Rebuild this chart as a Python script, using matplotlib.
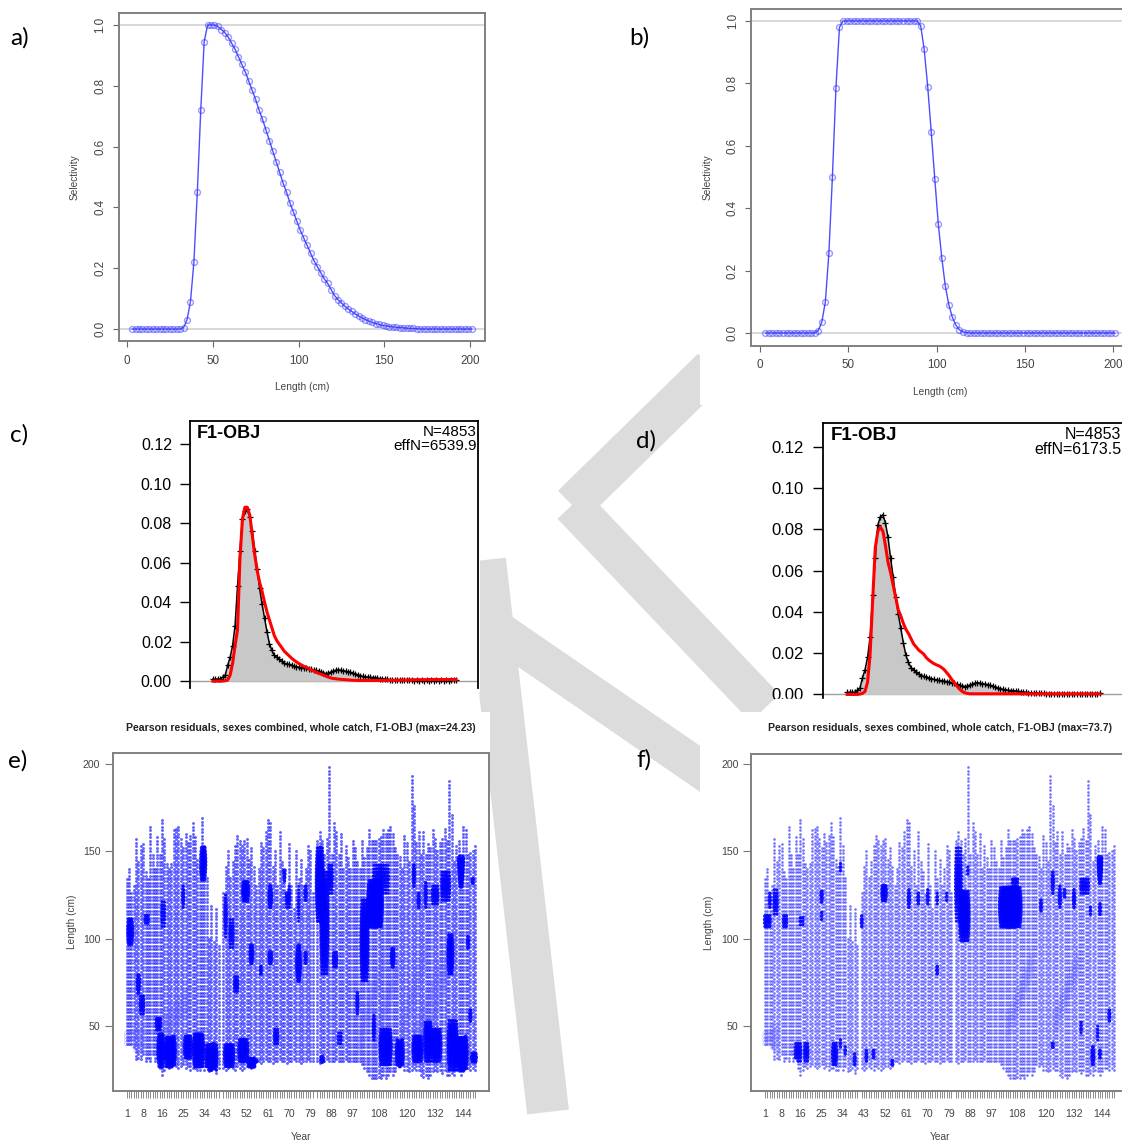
import numpy as np
import matplotlib.pyplot as plt
from matplotlib.patches import Polygon, Rectangle

plt.rcParams['font.family'] = ['Liberation Sans', 'DejaVu Sans']

W, H = 1122, 1143

# ---------------- data ----------------
# length bins (cm), shared by a-d
length = np.arange(3, 202, 2)

# a) selectivity, dome shaped
sel_a = [0, 0, 0, 0, 0, 0, 0, 0, 0, 0,
         0, 0, 0, 0, 0, 0.005, 0.03, 0.09, 0.22, 0.45,
         0.72, 0.945, 1.0, 1.0, 1.0, 0.995, 0.985, 0.975, 0.96, 0.94,
         0.92, 0.895, 0.87, 0.845, 0.815, 0.785, 0.755, 0.72, 0.69, 0.655,
         0.62, 0.585, 0.55, 0.515, 0.48, 0.45, 0.415, 0.385, 0.355, 0.325,
         0.30, 0.275, 0.25, 0.225, 0.205, 0.185, 0.165, 0.15, 0.13, 0.11,
         0.097, 0.086, 0.075, 0.066, 0.058, 0.05, 0.043, 0.037, 0.031, 0.026,
         0.022, 0.018, 0.015, 0.012, 0.01, 0.008, 0.007, 0.006, 0.005, 0.004,
         0.003, 0.002, 0.002, 0.001, 0, 0, 0, 0, 0, 0,
         0, 0, 0, 0, 0, 0, 0, 0, 0, 0]

# b) selectivity, flat top
sel_b = [0, 0, 0, 0, 0, 0, 0, 0, 0, 0,
         0, 0, 0, 0, 0, 0.008, 0.035, 0.10, 0.255, 0.50,
         0.785, 0.98, 1, 1, 1, 1, 1, 1, 1, 1,
         1, 1, 1, 1, 1, 1, 1, 1, 1, 1,
         1, 1, 1, 1, 0.985, 0.91, 0.79, 0.645, 0.495, 0.35,
         0.24, 0.15, 0.09, 0.05, 0.025, 0.01, 0.004, 0.001, 0, 0,
         0, 0, 0, 0, 0, 0, 0, 0, 0, 0,
         0, 0, 0, 0, 0, 0, 0, 0, 0, 0,
         0, 0, 0, 0, 0, 0, 0, 0, 0, 0,
         0, 0, 0, 0, 0, 0, 0, 0, 0, 0]

# c/d) observed length composition (same data in both)
obs_comp = [0.001, 0.001, 0.001, 0.001, 0.002, 0.003, 0.008, 0.012, 0.018, 0.028,
            0.048, 0.066, 0.082, 0.086, 0.087, 0.083, 0.076, 0.066, 0.057, 0.047,
            0.039, 0.032, 0.025, 0.019, 0.0155, 0.013, 0.012, 0.011, 0.010, 0.009,
            0.0088, 0.0085, 0.008, 0.0076, 0.0073, 0.007, 0.0068, 0.0066, 0.0065, 0.0062,
            0.006, 0.0057, 0.0054, 0.005, 0.0045, 0.004, 0.0038, 0.004, 0.0045, 0.005,
            0.0055, 0.0057, 0.0055, 0.0052, 0.005, 0.0048, 0.0045, 0.004, 0.0035, 0.0032,
            0.0028, 0.0024, 0.0022, 0.002, 0.0019, 0.0018, 0.0017, 0.0015, 0.0013, 0.0012,
            0.001, 0.0009, 0.0008, 0.0007, 0.0007, 0.0006, 0.0005, 0.0005, 0.0004, 0.0004,
            0.0003, 0.0004, 0.0002, 0.0003, 0.0002, 0.0003, 0.0002, 0.0004, 0.0002, 0.0003,
            0.0002, 0.0003, 0.0002, 0.0003, 0.0002, 0.0003, 0.0002, 0.0004, 0.0003, 0.0005]

# c) expected, model 1
exp_c = [0, 0, 0, 0, 0, 0.0002, 0.0005, 0.003, 0.009, 0.018,
         0.026, 0.062, 0.082, 0.088, 0.088, 0.084, 0.074, 0.064, 0.056, 0.050,
         0.0455, 0.040, 0.035, 0.031, 0.027, 0.023, 0.0205, 0.0187, 0.017, 0.0152,
         0.014, 0.0128, 0.0116, 0.0106, 0.0097, 0.0089, 0.0082, 0.0075, 0.007, 0.0064,
         0.0057, 0.0051, 0.0045, 0.0039, 0.0035, 0.003, 0.0025, 0.002, 0.0016, 0.0013,
         0.0012, 0.001, 0.0009, 0.0008, 0.0007, 0.0006, 0.0005, 0.0004, 0.0004, 0.0003,
         0.0003, 0.0003, 0.0003, 0.0003, 0.0003, 0.0003, 0.0003, 0.0003, 0.0003, 0.0003,
         0.0003, 0.0003, 0.0004, 0.0004, 0.0004, 0.0005, 0.0005, 0.0005, 0.0005, 0.0006,
         0.0006, 0.0006, 0.0006, 0.0007, 0.0007, 0.0007, 0.0007, 0.0007, 0.0008, 0.0008,
         0.0008, 0.0008, 0.0008, 0.0008, 0.0008, 0.0008, 0.0008, 0.0008, 0.0008, 0.0008]

# d) expected, model 2
exp_d = [0, 0, 0, 0, 0, 0.0002, 0.0005, 0.0015, 0.006, 0.020,
         0.046, 0.071, 0.079, 0.081, 0.079, 0.072, 0.064, 0.059, 0.053, 0.047,
         0.041, 0.038, 0.0344, 0.0315, 0.0295, 0.027, 0.0245, 0.023, 0.0215, 0.0205,
         0.0195, 0.0178, 0.0166, 0.0157, 0.0149, 0.0143, 0.0138, 0.013, 0.012, 0.0105,
         0.009, 0.0072, 0.0056, 0.004, 0.0026, 0.0015, 0.0008, 0.0005, 0.0003, 0.0003,
         0.0003, 0.0003, 0.0003, 0.0003, 0.0003, 0.0003, 0.0003, 0.0003, 0.0003, 0.0003,
         0.0003, 0.0003, 0.0003, 0.0003, 0.0003, 0.0003, 0.0003, 0.0003, 0.0003, 0.0003,
         0.0003, 0.0003, 0.0003, 0.0003, 0.0003, 0.0003, 0.0003, 0.0003, 0.0003, 0.0003,
         0.0003, 0.0003, 0.0003, 0.0003, 0.0003, 0.0003, 0.0003, 0.0003, 0.0003, 0.0003,
         0.0003, 0.0003, 0.0003, 0.0003, 0.0003, 0.0003, 0.0003, 0.0003, 0.0003, 0.0003]

# e/f) bubble plot: years 1..149 (41 and 81 missing), length range sampled each year
year_all = list(range(1, 150))
len_max = [134, 141, 126, 130, 157, 145, 153, 155, 139, 134,
           165, 149, 141, 159, 149, 169, 158, 143, 141, 143,
           163, 163, 165, 158, 153, 161, 155, 160, 167, 158,
           145, 141, 169, 153, 136, 101, 119, 98, 118, 96,
           None, 126, 141, 151, 136, 145, 153, 159, 157, 153,
           157, 157, 145, 153, 141, 130, 141, 155, 153, 162,
           169, 166, 141, 151, 130, 161, 145, 139, 126, 155,
           130, 118, 151, 134, 145, 130, 141, 153, 151, 126,
           None, 157, 161, 157, 149, 158, 199, 149, 167, 162,
           149, 161, 141, 153, 147, 141, 157, 153, 145, 141,
           157, 147, 153, 163, 157, 157, 157, 157, 158, 163,
           160, 162, 165, 161, 153, 149, 147, 141, 159, 156,
           145, 193, 176, 155, 161, 149, 161, 149, 155, 153,
           163, 157, 150, 155, 157, 163, 157, 191, 171, 145,
           153, 157, 147, 164, 162, 149, 149, 151, 153]
len_min = [40, 40, 40, 38, 31, 32, 31, 34, 30, 32,
           30, 34, 30, 32, 26, 22, 25, 27, 26, 27,
           28, 27, 26, 27, 28, 26, 27, 25, 26, 26,
           25, 25, 27, 25, 27, 24, 25, 26, 23, 26,
           None, 26, 25, 26, 27, 26, 25, 27, 26, 25,
           26, 27, 27, 26, 27, 30, 30, 29, 30, 31,
           30, 30, 29, 30, 30, 31, 30, 30, 29, 30,
           30, 31, 30, 30, 29, 30, 30, 31, 30, 30,
           None, 30, 29, 30, 30, 31, 30, 30, 30, 31,
           30, 30, 30, 31, 30, 30, 30, 30, 30, 30,
           28, 26, 24, 22, 20, 20, 20, 21, 20, 22,
           20, 22, 24, 22, 24, 28, 27, 28, 25, 25,
           24, 25, 26, 25, 25, 22, 21, 22, 20, 22,
           24, 25, 24, 25, 23, 25, 22, 22, 23, 22,
           25, 24, 22, 24, 26, 26, 25, 26, 25]

# large positive residual clusters: (year from, year to, length from, length to, size)
blobs_e = [(2, 3, 97, 111, 2.2), (6, 6, 69, 80, 2), (7, 8, 57, 68, 1.7), (9, 10, 109, 114, 1.6),
           (14, 15, 48, 55, 2), (15, 16, 27, 46, 2.6), (18, 21, 27, 44, 2.6), (16, 17, 107, 122, 1.4),
           (25, 25, 118, 130, 1.6), (26, 28, 32, 44, 2.2), (30, 33, 27, 46, 2.6), (33, 34, 134, 153, 2.3),
           (35, 39, 25, 40, 2.2), (43, 46, 27, 40, 2.2), (43, 43, 101, 126, 1.7), (45, 46, 95, 111, 1.6),
           (47, 48, 70, 78, 1.7), (49, 52, 30, 42, 2.2), (51, 52, 122, 133, 2.6), (53, 56, 27, 31, 2.2),
           (54, 54, 86, 97, 2.2), (58, 58, 80, 84, 1.6), (62, 62, 118, 130, 2.2), (62, 62, 86, 93, 2.2),
           (64, 65, 40, 48, 1.7), (68, 68, 133, 145, 1.7), (69, 70, 118, 130, 1.7), (74, 74, 76, 96, 2.6),
           (74, 74, 110, 130, 1.4), (77, 77, 122, 130, 1.7), (77, 77, 86, 93, 1.7), (82, 84, 110, 153, 2.2),
           (84, 86, 80, 139, 2.2), (87, 88, 126, 143, 1.7), (84, 84, 28, 32, 2.2), (89, 90, 84, 92, 1.7),
           (91, 92, 40, 46, 1.4), (99, 99, 57, 70, 1.7), (101, 103, 76, 122, 2.2), (104, 109, 107, 133, 2.7),
           (106, 112, 126, 143, 1.6), (106, 106, 42, 57, 1.7), (109, 113, 28, 48, 2.2), (114, 114, 84, 95, 2.2),
           (116, 118, 27, 42, 2.2), (123, 123, 130, 143, 1.7), (123, 126, 30, 44, 2.2), (125, 125, 118, 126, 1.7),
           (128, 130, 30, 53, 2.2), (128, 128, 118, 133, 1.7), (131, 133, 120, 130, 1.7), (131, 134, 30, 48, 2.2),
           (135, 138, 122, 139, 1.7), (138, 139, 80, 103, 2.2), (138, 141, 25, 53, 2.2), (143, 143, 130, 164, 3),
           (142, 145, 25, 44, 2.6), (146, 146, 95, 101, 1.7), (147, 147, 53, 59, 1.7), (148, 149, 30, 34, 2.2),
           (148, 148, 132, 135, 1.7)]
blobs_f = [(1, 3, 107, 114, 1.7), (3, 3, 118, 126, 1.6), (5, 6, 114, 128, 1.6), (9, 10, 107, 114, 1.6),
           (14, 16, 30, 40, 1.7), (16, 17, 108, 113, 1.4), (18, 19, 30, 40, 1.7), (25, 25, 121, 128, 1.7),
           (25, 25, 111, 116, 1.4), (30, 31, 28, 40, 1.9), (33, 33, 38, 42, 1.4), (33, 33, 139, 143, 1.4),
           (35, 35, 34, 38, 1.4), (39, 39, 28, 34, 1.6), (42, 42, 107, 113, 1.6), (44, 44, 30, 36, 1.6),
           (47, 47, 32, 36, 1.6), (51, 52, 122, 131, 2.1), (55, 55, 28, 30, 1.6), (62, 62, 118, 128, 1.7),
           (66, 66, 120, 126, 1.6), (70, 70, 120, 128, 1.6), (74, 74, 120, 126, 1.4), (74, 74, 80, 84, 1.6),
           (78, 78, 122, 126, 1.4), (82, 84, 110, 153, 1.7), (84, 87, 99, 128, 2.3), (87, 87, 137, 141, 1.4),
           (101, 109, 107, 130, 2.7), (106, 108, 130, 135, 1.6), (118, 118, 116, 122, 1.6), (123, 123, 126, 139, 1.7),
           (123, 123, 38, 40, 1.6), (126, 126, 118, 130, 1.7), (128, 128, 124, 128, 1.6), (132, 132, 118, 128, 1.7),
           (135, 138, 126, 135, 1.6), (139, 139, 114, 118, 1.4), (140, 140, 28, 38, 1.9), (143, 143, 132, 160, 2.6),
           (143, 143, 114, 120, 1.6), (143, 143, 32, 36, 1.6), (147, 147, 53, 59, 1.6), (142, 142, 42, 50, 1.4),
           (135, 135, 46, 53, 1.4)]
# negative residual streaks (open circles): (year from, length from, year to, length to)
neg_e = [(1, 40, 8, 44), (17, 50, 28, 66), (100, 42, 110, 88), (106, 40, 116, 84),
         (118, 48, 128, 92), (124, 44, 136, 90), (130, 50, 140, 96)]
neg_f = [(1, 40, 6, 44), (104, 50, 114, 86), (124, 52, 134, 88)]

year_labels = [1, 8, 16, 25, 34, 43, 52, 61, 70, 79, 88, 97, 108, 120, 132, 144]

# ---------------- layout helpers (pixel positions) ----------------
fig = plt.figure(figsize=(W / 100, H / 100), dpi=100)


def px_axes(left, top, right, bottom):
    return fig.add_axes([left / W, 1 - bottom / H, (right - left) / W, (bottom - top) / H])


def ftext(x, y, s, **kw):
    fig.text(x / W, 1 - y / H, s, **kw)


def band(x0, y0, x1, y1, w):
    # thick straight stroke between two pixel points
    d = np.array([x1 - x0, y1 - y0], float)
    n = np.array([-d[1], d[0]]) / np.hypot(*d) * w / 2
    pts = [(x0 + n[0], y0 + n[1]), (x1 + n[0], y1 + n[1]), (x1 - n[0], y1 - n[1]), (x0 - n[0], y0 - n[1])]
    return [(x / W, 1 - y / H) for x, y in pts]


gray_txt = '#444444'

# light gray watermark behind the pasted plots
for x0, y0, x1, y1, w in [(485, 560, 548, 1112, 42), (495, 628, 760, 810, 38),
                          (712, 368, 572, 505, 40), (572, 505, 765, 708, 40)]:
    fig.patches.append(Polygon(band(x0, y0, x1, y1, w), closed=True, transform=fig.transFigure,
                               color='#dcdcdc', lw=0, zorder=-2))
# white backgrounds of the six pasted plots hide the watermark
for l, t, r, b in [(55, 0, 490, 405), (700, 0, 1122, 405), (128, 412, 480, 692),
                   (775, 412, 1122, 700), (55, 712, 490, 1143), (700, 712, 1122, 1143)]:
    fig.patches.append(Rectangle((l / W, 1 - b / H), (r - l) / W, (b - t) / H, transform=fig.transFigure,
                                 color='white', lw=0, zorder=-1))

# ---------------- a) and b) selectivity ----------------
for sel, (l, t, r, b), lab_x, ylab_x in [(sel_a, (118.6, 12.8, 485.3, 341.2), 302, 75),
                                        (sel_b, (751.4, 8.5, 1128.7, 345.5), 940, 708)]:
    ax = px_axes(l, t, r, b)
    ax.axhline(0, color='#d6d6d6', lw=1.3, zorder=1)
    ax.axhline(1, color='#d6d6d6', lw=1.3, zorder=1)
    ax.plot(length, sel, color=(0.3, 0.3, 1.0), lw=1, zorder=2)
    ax.plot(length, sel, 'o', ms=4.2, mfc='none', mec=(0.2, 0.2, 1.0, 0.5), mew=1, zorder=3)
    ax.set_xlim(-4.9, 208.9)
    ax.set_ylim(-0.04, 1.04)
    ax.set_xticks([0, 50, 100, 150, 200])
    ax.set_yticks([0, 0.2, 0.4, 0.6, 0.8, 1.0])
    ax.set_yticklabels(['0.0', '0.2', '0.4', '0.6', '0.8', '1.0'], rotation=90, va='center')
    ax.tick_params(length=4, width=0.8, color='#666666', labelsize=8.4, labelcolor=gray_txt, pad=5)
    ax.tick_params(axis='x', pad=6)
    for sp in ax.spines.values():
        sp.set_color('#808080')
        sp.set_linewidth(1.4)
    ftext(ylab_x, (t + b) / 2, 'Selectivity', rotation=90, ha='center', va='center',
          fontsize=7.3, color=gray_txt)
    ftext(lab_x, b + 46, 'Length (cm)', ha='center', va='center', fontsize=7.3, color=gray_txt)

# ---------------- c) and d) length composition fits ----------------
for exp, (l, t, r, b), ylim, fsz, effn in [(exp_c, (190, 421, 478, 688), (-0.0035, 0.1317), 11.5, 'effN=6539.9'),
                                           (exp_d, (823.3, 423.3, 1122.8, 700), (-0.0027, 0.1313), 12, 'effN=6173.5')]:
    ax = px_axes(l, t, r, b)
    ax.axhline(0, color='#a0a0a0', lw=1, zorder=1)
    ax.fill_between(length, 0, obs_comp, color='#c8c8c8', lw=0, zorder=2)
    ax.plot(length, obs_comp, color='black', lw=1.1, marker='+', ms=3.8, mew=0.9, zorder=3)
    ax.plot(length, exp, color='red', lw=2.2, zorder=4)
    ax.set_xlim(-15.7, 218.9)
    ax.set_ylim(*ylim)
    ax.set_xticks([])
    ax.set_yticks([0, 0.02, 0.04, 0.06, 0.08, 0.10, 0.12])
    ax.set_yticklabels(['0.00', '0.02', '0.04', '0.06', '0.08', '0.10', '0.12'])
    ax.tick_params(axis='y', length=7, width=1, labelsize=fsz, pad=6 if fsz < 12 else 7)
    ax.spines['bottom'].set_visible(False)
    for s in ['left', 'right', 'top']:
        ax.spines[s].set_linewidth(1.3)
    ax.text(0.025, 0.985, 'F1-OBJ', transform=ax.transAxes, ha='left', va='top',
            fontsize=fsz + 1.5, fontweight='bold')
    ax.text(0.995, 0.985, 'N=4853\n' + effn, transform=ax.transAxes, ha='right', va='top',
            fontsize=fsz - 0.5, linespacing=1.0)

# crop line under panel d
fig.patches.append(Rectangle((775 / W, 1 - 714 / H), 347 / W, 15 / H, transform=fig.transFigure,
                             color='white', zorder=20))


# ---------------- e) and f) Pearson residual bubbles ----------------
def bubbles(ax, blobs, negs, base_s, base_a):
    xs, ys = [], []
    col_range = {}
    for yr, lo, hi in zip(year_all, len_min, len_max):
        if lo is None:
            continue
        col_range[yr] = (lo, hi)
        for L in range(lo, hi + 1, 2):
            xs.append(yr)
            ys.append(L)
    ax.scatter(xs, ys, s=base_s, color='blue', alpha=base_a, lw=0, zorder=2)
    # negative residuals: open circles along cohort streaks
    nx, ny = [], []
    for y0, l0, y1, l1 in negs:
        for yr in range(y0, y1 + 1):
            if yr not in col_range:
                continue
            lo, hi = col_range[yr]
            lc = l0 + (l1 - l0) * (yr - y0) / max(y1 - y0, 1)
            for L in range(int(lc) - 6, int(lc) + 7, 2):
                if lo <= L <= hi:
                    nx.append(yr)
                    ny.append(L)
    ax.scatter(nx, ny, s=10, facecolors='none', edgecolors=(0.35, 0.35, 1.0, 0.3), lw=0.6, zorder=3)
    # big positive residuals: filled, larger in the middle of each cluster
    bx, by, bs = [], [], []
    for y0, y1, l0, l1, sz in blobs:
        lc, lh = (l0 + l1) / 2, (l1 - l0) / 2 + 2
        yc, yh = (y0 + y1) / 2, (y1 - y0) / 2 + 1
        for yr in range(y0, y1 + 1):
            if yr not in col_range:
                continue
            lo, hi = col_range[yr]
            for L in range(max(l0, lo), min(l1, hi) + 1, 2):
                f = 1 - 0.45 * ((L - lc) / lh) ** 2 - 0.3 * ((yr - yc) / yh) ** 2
                bx.append(yr)
                by.append(L)
                bs.append(3.8 * (sz * f) ** 2)
    ax.scatter(bx, by, s=bs, color='blue', alpha=0.9, lw=0, zorder=4)


for blobs, negs, (l, t, r, b), base_s, base_a, title, cx, ylab_x in [
        (blobs_e, neg_e, (112.8, 753.3, 489, 1090.7), 4.4, 0.62,
         'Pearson residuals, sexes combined, whole catch, F1-OBJ (max=24.23)', 301, 72),
        (blobs_f, neg_f, (751.1, 754, 1128, 1090.7), 3.6, 0.55,
         'Pearson residuals, sexes combined, whole catch, F1-OBJ (max=73.7)', 940, 709)]:
    ax = px_axes(l, t, r, b)
    bubbles(ax, blobs, negs, base_s, base_a)
    ax.set_xlim(-4.9, 154.9)
    ax.set_ylim(13.0, 200 + (764 - t) / 1.747)
    yrs = [y for y, lo in zip(year_all, len_min) if lo is not None]
    ax.set_xticks(yrs)
    ax.set_xticklabels([str(y) if y in year_labels else '' for y in yrs])
    ax.set_yticks([50, 100, 150, 200])
    ax.tick_params(axis='x', length=5, width=0.6, color='#777777', labelsize=7.6,
                   labelcolor=gray_txt, pad=8)
    ax.tick_params(axis='y', length=6, width=0.8, color='#777777', labelsize=7.6,
                   labelcolor=gray_txt, pad=3)
    for sp in ax.spines.values():
        sp.set_color('#808080')
        sp.set_linewidth(1.4)
    ftext(cx, 728, title, ha='center', va='center', fontsize=7.6, fontweight='bold', color='#222222')
    ftext(cx, 1137, 'Year', ha='center', va='center', fontsize=7.3, color=gray_txt)
    ftext(ylab_x, (t + b) / 2, 'Length (cm)', rotation=90, ha='center', va='center',
          fontsize=7.3, color=gray_txt)

# ---------------- panel letters ----------------
for s, x, y in [('a)', 10, 38), ('b)', 629, 38), ('c)', 10, 435), ('d)', 636, 441),
                ('e)', 8, 761), ('f)', 636, 760)]:
    ftext(x, y, s, ha='left', va='center', fontsize=17.5, family=['Lato', 'DejaVu Sans'])

fig.savefig('out.png', dpi=100)
